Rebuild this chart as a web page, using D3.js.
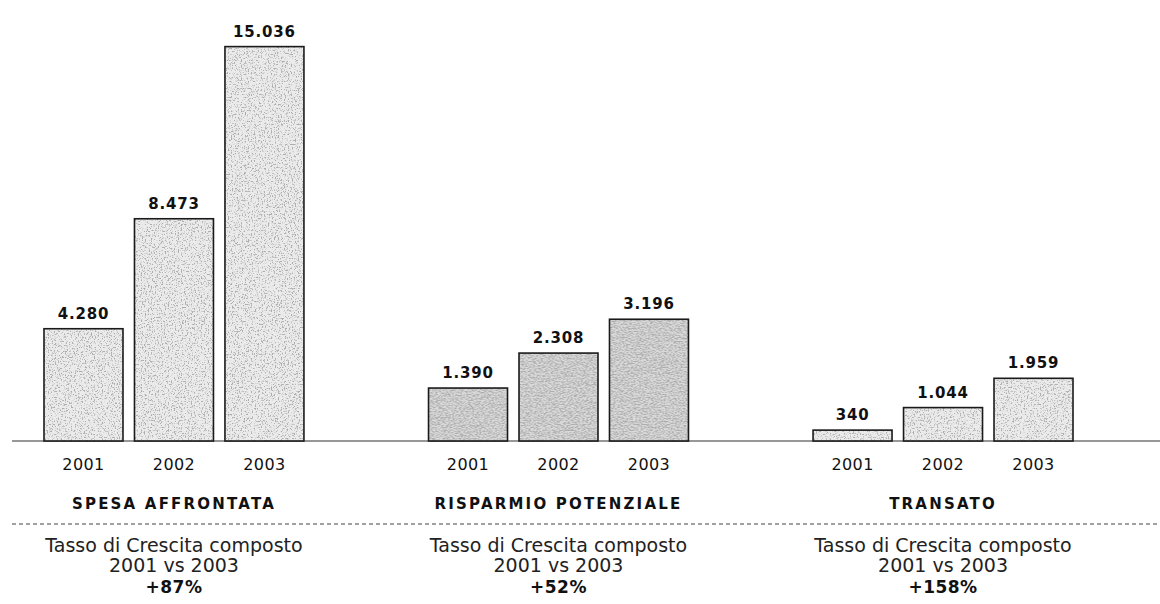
<!DOCTYPE html>
<html>
<head>
<meta charset="utf-8">
<script src="https://cdn.jsdelivr.net/npm/d3@7"></script>
<style>
  body { margin: 0; background: #fff; }
  text { font-family: "DejaVu Sans", Verdana, sans-serif; fill: #111; }
</style>
</head>
<body>
<div id="chart"></div>
<script>
// data
var groups = ["SPESA AFFRONTATA", "RISPARMIO POTENZIALE", "TRANSATO"];
var years = ["2001", "2002", "2003"];
var spesa = [4280, 8473, 15036];
var risparmio = [1390, 2308, 3196];
var transato = [340, 1044, 1959];
var growth = ["+87%", "+52%", "+158%"];
// each block in the original has its own vertical scale
var axisMax = [15250, 10500, 12500];

var values = [spesa, risparmio, transato];
var fmt = d3.formatLocale({decimal: ",", thousands: ".", grouping: [3]}).format(",d");

var width = 1160, height = 604;
var baseY = 441, topY = 41;

var svg = d3.select("#chart").append("svg")
    .attr("width", width)
    .attr("height", height);

// stipple texture for the bars
var defs = svg.append("defs");
function stipple(id, bg, slope, cut, seed) {
    var f = defs.append("filter").attr("id", id + "-f")
        .attr("x", 0).attr("y", 0).attr("width", 1).attr("height", 1);
    f.append("feTurbulence").attr("type", "fractalNoise")
        .attr("baseFrequency", 0.7).attr("numOctaves", 3).attr("seed", seed);
    f.append("feColorMatrix").attr("type", "matrix")
        .attr("values", "0 0 0 0 0.42  0 0 0 0 0.42  0 0 0 0 0.42  " + slope + " 0 0 0 " + cut);
    var p = defs.append("pattern").attr("id", id)
        .attr("patternUnits", "userSpaceOnUse")
        .attr("width", 300).attr("height", 420);
    p.append("rect").attr("width", 300).attr("height", 420).attr("fill", bg);
    p.append("rect").attr("width", 300).attr("height", 420)
        .attr("fill", "#fff").attr("filter", "url(#" + id + "-f)");
}
stipple("stip-light", "#ebebeb", 6, -3.2, 4);
stipple("stip-dark", "#dadada", 6, -2.7, 7);
var fills = ["url(#stip-light)", "url(#stip-dark)", "url(#stip-light)"];

var x0 = d3.scaleBand()
    .domain(groups)
    .range([44, 1073])
    .paddingInner(0.324);

var x1 = d3.scaleBand()
    .domain(years)
    .range([0, x0.bandwidth()])
    .paddingInner(0.127);

var yScales = axisMax.map(function(m) {
    return d3.scaleLinear().domain([0, m]).range([baseY, topY]);
});

// baseline
svg.append("line")
    .attr("x1", 12).attr("x2", width)
    .attr("y1", baseY).attr("y2", baseY)
    .attr("stroke", "#333").attr("stroke-width", 1.2);

var g = svg.selectAll(".group")
    .data(groups)
    .enter().append("g")
    .attr("class", "group")
    .attr("transform", function(d) { return "translate(" + x0(d) + ",0)"; });

g.each(function(name, gi) {
    var sel = d3.select(this);
    var y = yScales[gi];
    var rows = years.map(function(yr, i) { return {year: yr, value: values[gi][i]}; });

    sel.selectAll("rect.bar")
        .data(rows)
        .enter().append("rect")
        .attr("class", "bar")
        .attr("x", function(d) { return x1(d.year); })
        .attr("y", function(d) { return y(d.value); })
        .attr("width", x1.bandwidth())
        .attr("height", function(d) { return baseY - y(d.value); })
        .attr("fill", fills[gi])
        .attr("stroke", "#1a1a1a")
        .attr("stroke-width", 1.6);

    sel.selectAll("text.val")
        .data(rows)
        .enter().append("text")
        .attr("class", "val")
        .attr("x", function(d) { return x1(d.year) + x1.bandwidth() / 2; })
        .attr("y", function(d) { return y(d.value) - 10; })
        .attr("text-anchor", "middle")
        .style("font-size", "15px")
        .style("font-weight", "bold")
        .style("letter-spacing", "0.8px")
        .text(function(d) { return fmt(d.value); });

    sel.selectAll("text.year")
        .data(rows)
        .enter().append("text")
        .attr("class", "year")
        .attr("x", function(d) { return x1(d.year) + x1.bandwidth() / 2; })
        .attr("y", 470)
        .attr("text-anchor", "middle")
        .style("font-size", "16px")
        .style("letter-spacing", "0.4px")
        .text(function(d) { return d.year; });

    var cx = x0.bandwidth() / 2;

    sel.append("text")
        .attr("x", cx).attr("y", 509)
        .attr("text-anchor", "middle")
        .style("font-size", "15px")
        .style("font-weight", "bold")
        .style("letter-spacing", "2.2px")
        .text(name);

    sel.append("text")
        .attr("x", cx).attr("y", 552)
        .attr("text-anchor", "middle")
        .style("font-size", "19px")
        .style("fill", "#222")
        .text("Tasso di Crescita composto");

    sel.append("text")
        .attr("x", cx).attr("y", 572)
        .attr("text-anchor", "middle")
        .style("font-size", "19px")
        .style("fill", "#222")
        .text(years[0] + " vs " + years[years.length - 1]);

    sel.append("text")
        .attr("x", cx).attr("y", 593)
        .attr("text-anchor", "middle")
        .style("font-size", "17px")
        .style("font-weight", "bold")
        .style("letter-spacing", "0.5px")
        .text(growth[gi]);
});

// dashed separator
svg.append("line")
    .attr("x1", 12).attr("x2", width)
    .attr("y1", 524).attr("y2", 524)
    .attr("stroke", "#444").attr("stroke-width", 1.2)
    .attr("stroke-dasharray", "4,3");
</script>
</body>
</html>
